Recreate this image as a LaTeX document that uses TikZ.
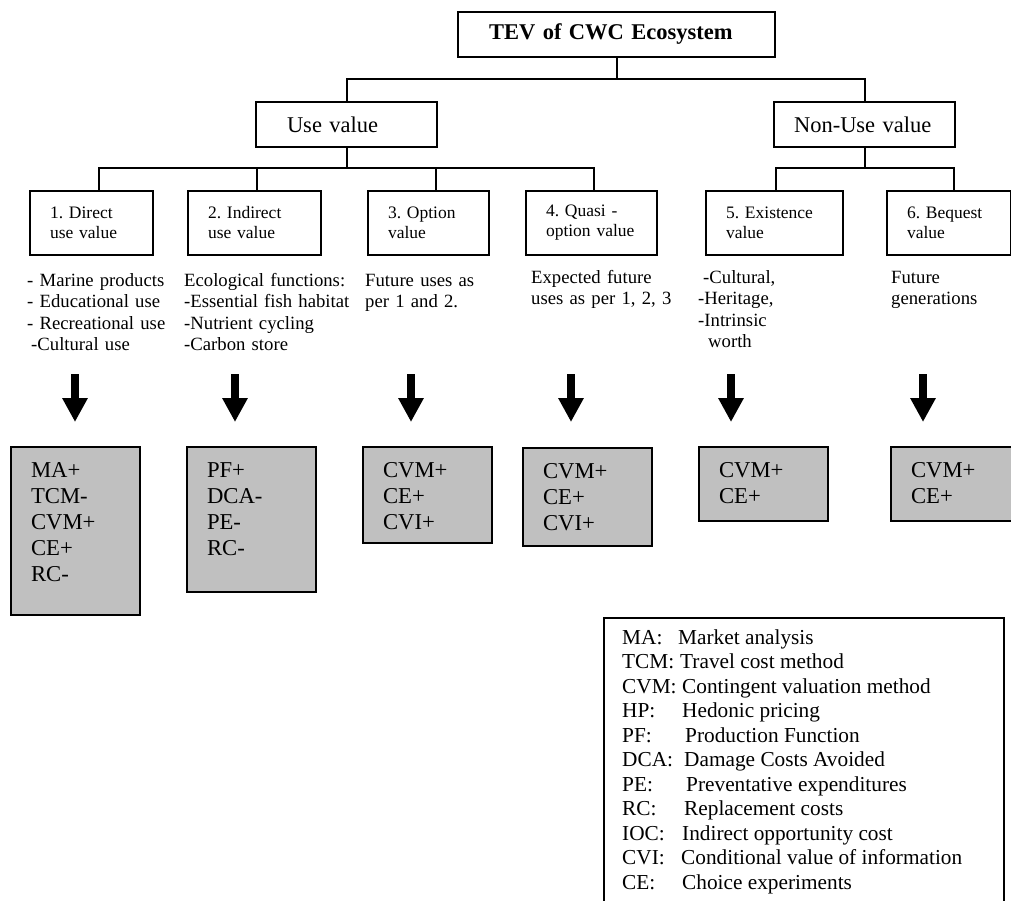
\documentclass[tikz,border=0pt]{standalone}
\usepackage{fontspec}
\setmainfont{Liberation Serif}
\usetikzlibrary{arrows.meta}
\definecolor{boxgray}{RGB}{192,192,192}
\frenchspacing
\tikzset{
    topbox/.style = {rectangle, draw=black, line width=2pt, anchor=north west, minimum height=45pt, align=left, font=\fontsize{22.5}{26}\selectfont},
    valbox/.style = {rectangle, draw=black, line width=2pt, anchor=north west, minimum height=64pt, inner xsep=20pt, align=left, font=\fontsize{17.5}{20}\selectfont},
    notetext/.style = {anchor=base west, inner sep=0pt, text width=175pt, align=left, font=\fontsize{18.7}{21.5}\selectfont},
    methbox/.style = {rectangle, draw=black, line width=2pt, fill=boxgray, anchor=north west, text width=89pt, inner xsep=20pt, inner ysep=15pt, text height=15pt, align=left, font=\fontsize{22.7}{26}\selectfont},
    legbox/.style = {rectangle, draw=black, line width=2pt, anchor=north west, minimum width=400pt, minimum height=300pt},
    legtext/.style = {anchor=base west, inner sep=0pt, font=\fontsize{21.3}{24.5}\selectfont},
    link/.style = {line width=2pt},
    bigarrow/.style = {line width=7.5pt, -{Triangle[width=24pt,length=24pt]}}
}
\begin{document}
\begin{tikzpicture}[x=1pt,y=-1pt]
\useasboundingbox (0,0) rectangle (1011,900);
\clip (0,0) rectangle (1011,900);
%
\node[topbox, inner xsep=31pt, text width=255pt, font=\fontsize{22.5}{26}\selectfont\bfseries] at (457,11) (tev) {TEV of CWC Ecosystem};
\node[topbox, inner xsep=31pt, text width=119pt] at (255,101) (use) {Use value};
\node[topbox, inner xsep=20pt, text width=141pt] at (773,101) (nonuse) {Non-Use value};
%
\node[valbox, text width=83pt] at (29,190) (d1) {1. Direct\\use value};
\node[valbox, text width=93pt] at (187,190) (d2) {2. Indirect\\use value};
\node[valbox, text width=81pt] at (367,190) (d3) {3. Option\\value};
\node[valbox, text width=91pt] at (525,190) (d4) {4. Quasi -\\option value};
\node[valbox, text width=97pt] at (705,190) (d5) {5. Existence\\value};
\node[valbox, text width=84pt] at (886,190) (d6) {6. Bequest\\value};
%
\draw[link] (tev.south) -- (tev.south |- 0,79) -| (use.north);
\draw[link] (tev.south |- 0,79) -| (nonuse.north);
\draw[link] (use.south) -- (use.south |- 0,168) -| ([xshift=7.5pt]d1.north);
\draw[link] (use.south |- 0,168) -| ([xshift=2.5pt]d2.north);
\draw[link] (use.south |- 0,168) -| ([xshift=7.5pt]d3.north);
\draw[link] (use.south |- 0,168) -| ([xshift=2.5pt]d4.north);
\draw[link] (nonuse.south) -- (nonuse.south |- 0,168) -| ([xshift=1.5pt]d5.north);
\draw[link] (nonuse.south |- 0,168) -| ([xshift=5pt]d6.north);
%
\node[notetext] at (27,286) (n1) {- Marine products\\- Educational use\\- Recreational use\\\hspace*{4pt}-Cultural use};
\node[notetext] at (184,286) (n2) {Ecological functions:\\-Essential fish habitat\\-Nutrient cycling\\-Carbon store};
\node[notetext] at (365,286) (n3) {Future uses as\\per 1 and 2.};
\node[notetext] at (531,283) (n4) {Expected future\\uses as per 1, 2, 3};
\node[notetext] at (698,283) (n5) {\hspace*{5pt}-Cultural,\\-Heritage,\\-Intrinsic\\\hspace*{10pt}worth};
\node[notetext] at (891,283) (n6) {Future\\generations};
%
\coordinate (t1) at (75,374);  \coordinate (h1) at (75,422);
\coordinate (t2) at (235,374); \coordinate (h2) at (235,422);
\coordinate (t3) at (411,374); \coordinate (h3) at (411,422);
\coordinate (t4) at (571,374); \coordinate (h4) at (571,422);
\coordinate (t5) at (731,374); \coordinate (h5) at (731,422);
\coordinate (t6) at (923,374); \coordinate (h6) at (923,422);
\draw[bigarrow] (t1) -- (h1);
\draw[bigarrow] (t2) -- (h2);
\draw[bigarrow] (t3) -- (h3);
\draw[bigarrow] (t4) -- (h4);
\draw[bigarrow] (t5) -- (h5);
\draw[bigarrow] (t6) -- (h6);
%
\node[methbox, text depth=123pt] at (10,446) (m1) {MA+\\TCM-\\CVM+\\CE+\\RC-};
\node[methbox, text depth=100pt] at (186,446) (m2) {PF+\\DCA-\\PE-\\RC-};
\node[methbox, text depth=51pt] at (362,446) (m3) {CVM+\\CE+\\CVI+};
\node[methbox, text depth=53pt] at (522,447) (m4) {CVM+\\CE+\\CVI+};
\node[methbox, text depth=29pt] at (698,446) (m5) {CVM+\\CE+};
\node[methbox, text depth=29pt] at (890,446) (m6) {CVM+\\CE+};
%
\node[legbox] at (603,617) (legend) {};
\node[legtext] at (622,644) (lma) {MA:};
\node[legtext] at (678,644) (lmad) {Market analysis};
\node[legtext] at (622,668.5) (ltcm) {TCM:};
\node[legtext] at (680,668.5) (ltcmd) {Travel cost method};
\node[legtext] at (622,693) (lcvm) {CVM:};
\node[legtext] at (682,693) (lcvmd) {Contingent valuation method};
\node[legtext] at (622,717.5) (lhp) {HP:};
\node[legtext] at (682,717.5) (lhpd) {Hedonic pricing};
\node[legtext] at (622,742) (lpf) {PF:};
\node[legtext] at (685,742) (lpfd) {Production Function};
\node[legtext] at (622,766.5) (ldca) {DCA:};
\node[legtext] at (684,766.5) (ldcad) {Damage Costs Avoided};
\node[legtext] at (622,791) (lpe) {PE:};
\node[legtext] at (686,791) (lped) {Preventative expenditures};
\node[legtext] at (622,815.5) (lrc) {RC:};
\node[legtext] at (684,815.5) (lrcd) {Replacement costs};
\node[legtext] at (622,840) (lioc) {IOC:};
\node[legtext] at (682,840) (liocd) {Indirect opportunity cost};
\node[legtext] at (622,864.5) (lcvi) {CVI:};
\node[legtext] at (681,864.5) (lcvid) {Conditional value of information};
\node[legtext] at (622,889) (lce) {CE:};
\node[legtext] at (682,889) (lced) {Choice experiments};

\end{tikzpicture}
\end{document}
